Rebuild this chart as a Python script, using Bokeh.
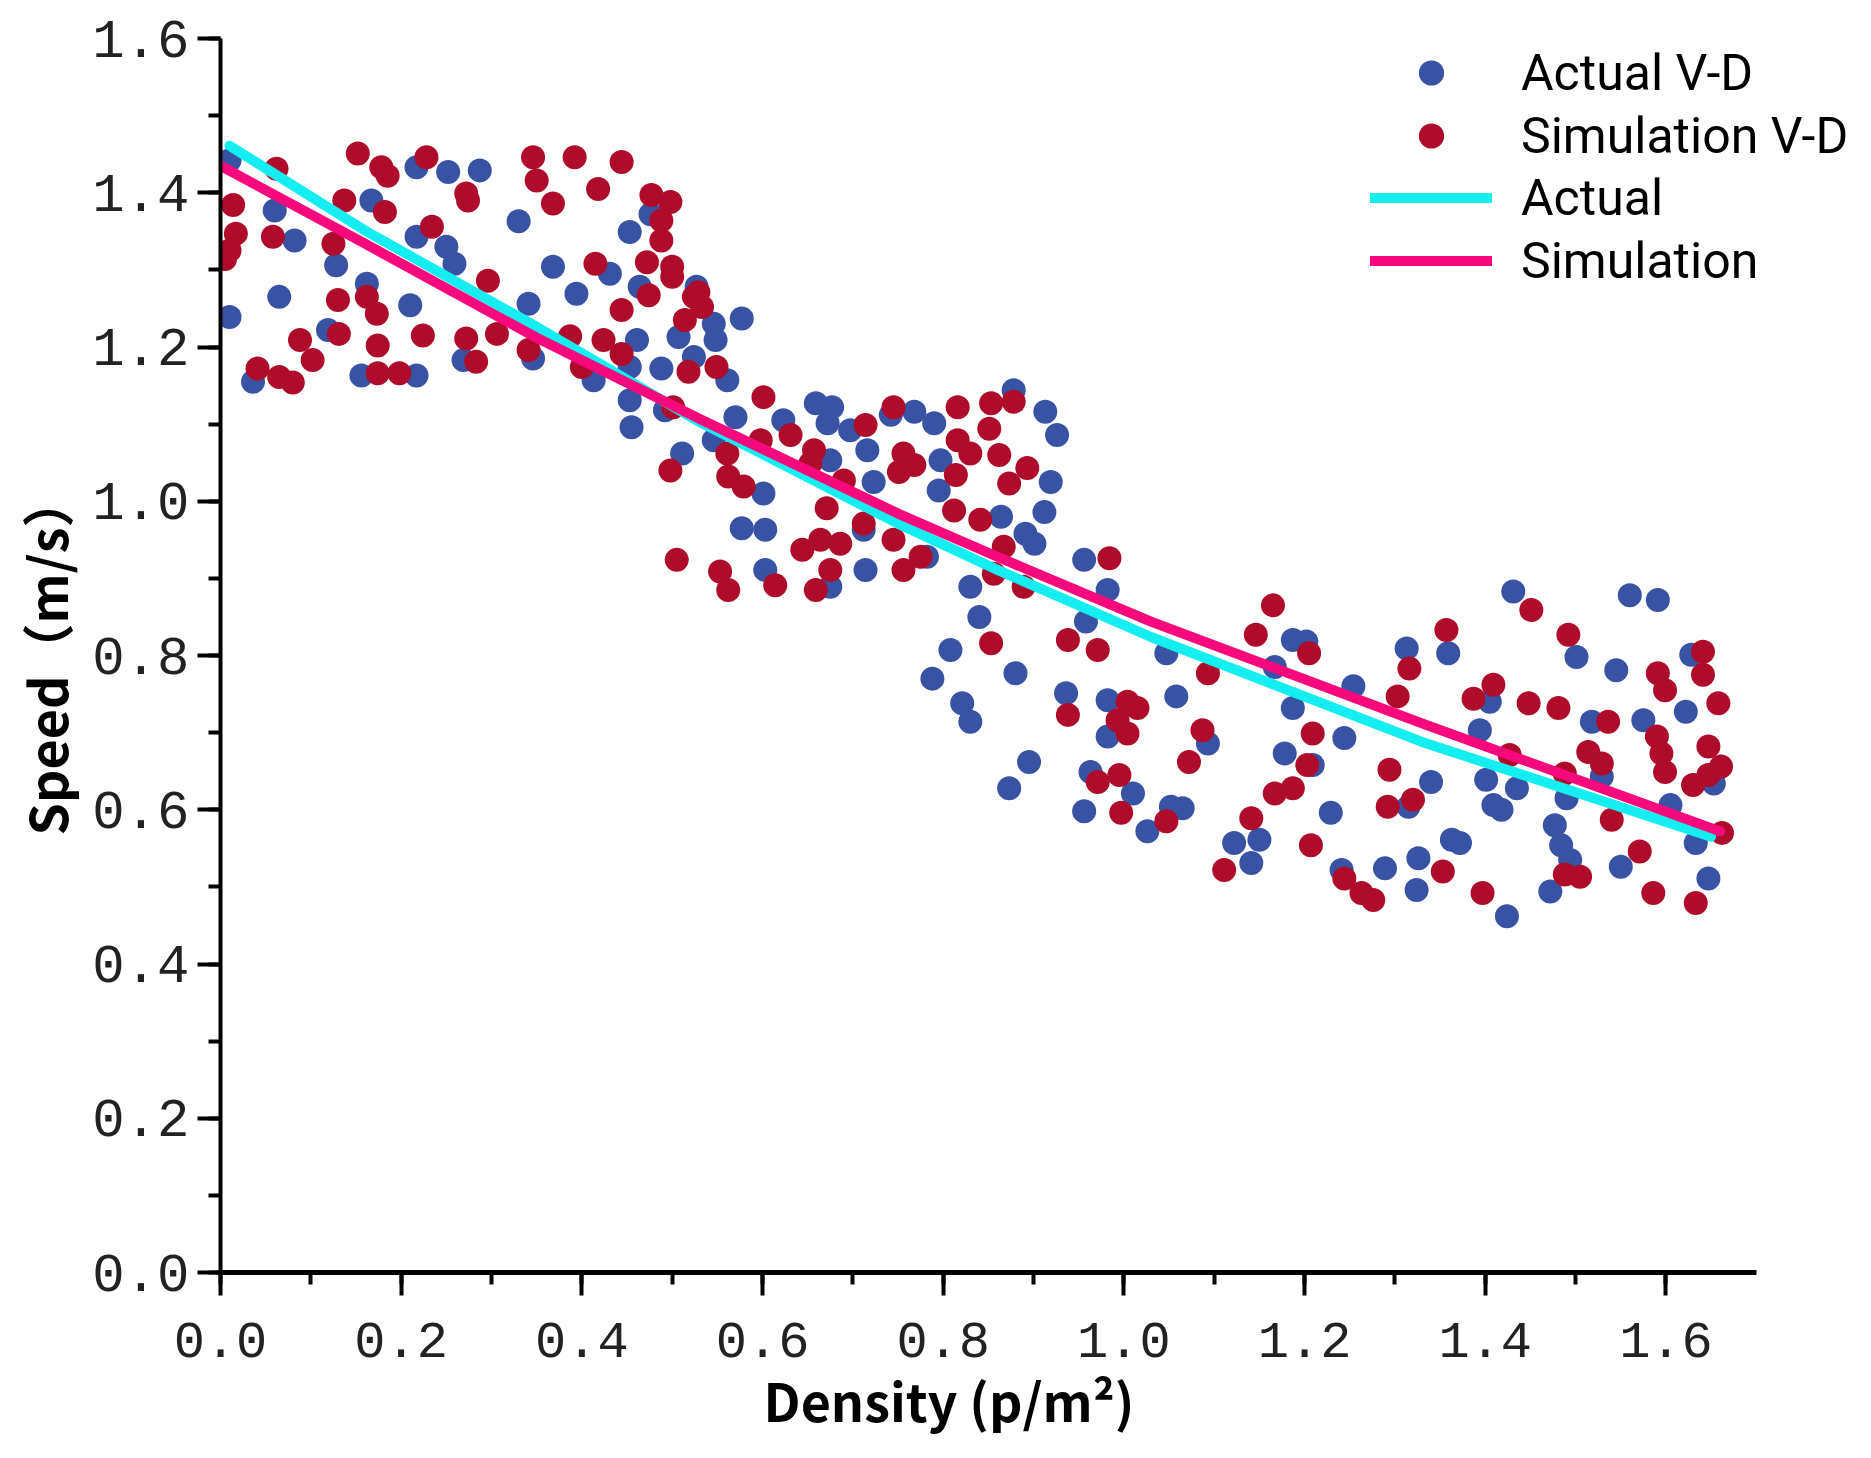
from bokeh.plotting import figure
from bokeh.models import (SingleIntervalTicker, PrintfTickFormatter, Legend,
                          LegendItem, Range1d, Title)
from bokeh.embed import file_html
from bokeh.resources import INLINE

BLUE = "#3953A4"
RED = "#AE0C2A"
CYAN = "#14EEF0"
PINK = "#F7087C"

# measured points, actual V-D (density p/m2, speed m/s)
blue_density = [
    0.010, 0.060, 0.082, 0.065, 0.010, 0.036, 0.128, 0.167, 0.162, 0.119, 0.156, 0.217, 0.210, 0.217, 0.252, 0.287, 0.217, 0.250, 0.259, 0.330,
    0.368, 0.394, 0.341, 0.431, 0.453, 0.476, 0.464, 0.461, 0.453, 0.413, 0.453, 0.455, 0.488, 0.507, 0.527, 0.511, 0.492, 0.269, 0.346,
    0.577, 0.546, 0.548, 0.524, 0.561, 0.570, 0.623, 0.659, 0.677, 0.672, 0.697, 0.742, 0.768, 0.790, 0.878, 0.913, 0.926, 0.919,
    0.912, 0.864, 0.891, 0.901, 0.797, 0.795, 0.716, 0.723, 0.675, 0.546, 0.601, 0.577, 0.603, 0.603, 0.712, 0.714, 0.675, 0.782,
    0.830, 0.840, 0.808, 0.788, 0.821, 0.830, 0.880, 0.956, 0.982, 0.958, 0.936, 0.982, 0.982,
    1.047, 1.058, 0.895, 0.873, 0.963, 0.956, 1.010, 1.026, 1.052, 1.065, 1.093, 1.122, 1.150, 1.141, 1.167, 1.187,
    1.187, 1.202, 1.178, 1.209, 1.244, 1.229, 1.254, 1.313, 1.359, 1.340, 1.315, 1.241, 1.289, 1.326, 1.324, 1.363,
    1.431, 1.560, 1.591, 1.501, 1.545, 1.628, 1.405, 1.518, 1.575, 1.622, 1.394, 1.401, 1.435, 1.409,
    1.418, 1.490, 1.529, 1.477, 1.484, 1.494, 1.472, 1.372, 1.424, 1.550, 1.605, 1.633, 1.647, 1.653,
]
blue_speed = [
    1.442, 1.377, 1.338, 1.265, 1.239, 1.155, 1.306, 1.390, 1.282, 1.222, 1.163, 1.163, 1.254, 1.433, 1.427, 1.429, 1.343, 1.330, 1.308, 1.363,
    1.304, 1.269, 1.256, 1.295, 1.349, 1.372, 1.278, 1.209, 1.174, 1.157, 1.131, 1.096, 1.172, 1.213, 1.278, 1.062, 1.118, 1.183, 1.185,
    1.237, 1.230, 1.209, 1.187, 1.157, 1.109, 1.105, 1.127, 1.122, 1.101, 1.092, 1.112, 1.116, 1.101, 1.144, 1.116, 1.086, 1.025,
    0.986, 0.980, 0.958, 0.945, 1.053, 1.014, 1.066, 1.025, 1.053, 1.079, 1.010, 0.965, 0.963, 0.911, 0.963, 0.911, 0.889, 0.928,
    0.889, 0.850, 0.807, 0.770, 0.738, 0.714, 0.777, 0.924, 0.885, 0.844, 0.751, 0.742, 0.695,
    0.803, 0.747, 0.662, 0.628, 0.649, 0.598, 0.621, 0.572, 0.604, 0.602, 0.686, 0.557, 0.561, 0.531, 0.785, 0.732,
    0.820, 0.818, 0.673, 0.658, 0.693, 0.596, 0.760, 0.809, 0.803, 0.636, 0.604, 0.522, 0.524, 0.537, 0.496, 0.561,
    0.883, 0.878, 0.872, 0.798, 0.781, 0.801, 0.740, 0.714, 0.716, 0.727, 0.703, 0.639, 0.628, 0.606,
    0.600, 0.615, 0.643, 0.580, 0.554, 0.535, 0.494, 0.557, 0.462, 0.526, 0.606, 0.557, 0.511, 0.634,
]

# simulated points, simulation V-D
red_density = [
    0.152, 0.178, 0.185, 0.228, 0.272, 0.274, 0.062, 0.014, 0.017, 0.010, 0.005, 0.058, 0.125, 0.137, 0.182, 0.234, 0.346, 0.350, 0.368, 0.392,
    0.418, 0.444, 0.477, 0.498, 0.488, 0.488, 0.472, 0.500, 0.500, 0.415, 0.296, 0.524, 0.474, 0.444, 0.514, 0.130, 0.162, 0.173, 0.131, 0.088,
    0.102, 0.041, 0.065, 0.080, 0.174, 0.174, 0.198, 0.224, 0.272, 0.283, 0.306, 0.341, 0.387, 0.400, 0.424, 0.444, 0.518, 0.501, 0.498, 0.505,
    0.529, 0.533, 0.549, 0.601, 0.561, 0.562, 0.579, 0.598, 0.631, 0.657, 0.653, 0.714, 0.745, 0.816, 0.853, 0.878, 0.851, 0.756,
    0.768, 0.751, 0.816, 0.830, 0.862, 0.814, 0.893, 0.873, 0.690, 0.671, 0.712, 0.812, 0.841, 0.867, 0.856, 0.889, 0.664, 0.644,
    0.686, 0.675, 0.659, 0.745, 0.775, 0.756, 0.553, 0.562, 0.614, 0.984, 0.853, 0.938, 0.971, 0.938, 1.004, 0.993, 1.004,
    1.015, 1.093, 1.087, 1.072, 0.971, 0.995, 0.997, 1.047, 1.165, 1.146, 1.205, 1.209, 1.203, 1.167,
    1.187, 1.141, 1.207, 1.111, 1.244, 1.263, 1.276, 1.303, 1.316, 1.294, 1.292, 1.320, 1.357, 1.353,
    1.451, 1.492, 1.387, 1.409, 1.448, 1.481, 1.536, 1.514, 1.529, 1.591, 1.599, 1.641, 1.641, 1.658, 1.590, 1.595,
    1.599, 1.647, 1.661, 1.647, 1.630, 1.427, 1.488, 1.540, 1.662, 1.571, 1.488, 1.505, 1.397, 1.586, 1.633,
]
red_speed = [
    1.451, 1.433, 1.422, 1.446, 1.399, 1.390, 1.431, 1.384, 1.347, 1.325, 1.314, 1.343, 1.334, 1.390, 1.375, 1.356, 1.446, 1.416, 1.386, 1.446,
    1.405, 1.440, 1.397, 1.388, 1.364, 1.338, 1.310, 1.304, 1.291, 1.308, 1.286, 1.265, 1.267, 1.248, 1.235, 1.261, 1.265, 1.243, 1.217, 1.209,
    1.183, 1.172, 1.161, 1.154, 1.202, 1.166, 1.166, 1.215, 1.211, 1.181, 1.217, 1.196, 1.214, 1.174, 1.209, 1.191, 1.168, 1.122, 1.040, 0.924,
    1.271, 1.252, 1.174, 1.135, 1.062, 1.032, 1.019, 1.079, 1.086, 1.066, 1.049, 1.099, 1.122, 1.122, 1.127, 1.129, 1.094, 1.062,
    1.047, 1.038, 1.079, 1.062, 1.060, 1.034, 1.043, 1.023, 1.027, 0.991, 0.971, 0.988, 0.976, 0.941, 0.906, 0.889, 0.950, 0.937,
    0.945, 0.911, 0.885, 0.950, 0.928, 0.911, 0.909, 0.885, 0.891, 0.926, 0.816, 0.820, 0.807, 0.723, 0.740, 0.716, 0.699,
    0.732, 0.777, 0.703, 0.662, 0.636, 0.645, 0.596, 0.585, 0.865, 0.827, 0.803, 0.699, 0.658, 0.621,
    0.628, 0.589, 0.554, 0.522, 0.511, 0.492, 0.483, 0.747, 0.783, 0.652, 0.604, 0.613, 0.833, 0.520,
    0.859, 0.827, 0.744, 0.762, 0.738, 0.732, 0.714, 0.675, 0.660, 0.777, 0.755, 0.805, 0.775, 0.738, 0.695, 0.673,
    0.649, 0.682, 0.656, 0.645, 0.632, 0.671, 0.647, 0.587, 0.570, 0.546, 0.516, 0.513, 0.492, 0.492, 0.479,
]

# fitted curves
actual_fit_density = [0.01, 0.16, 0.35, 0.53, 0.75, 0.86, 1.03, 1.33, 1.65]
actual_fit_speed = [1.461, 1.351, 1.226, 1.103, 0.971, 0.911, 0.824, 0.688, 0.565]
sim_fit_density = [0.0, 0.16, 0.35, 0.53, 0.75, 0.86, 1.03, 1.33, 1.66]
sim_fit_speed = [1.435, 1.334, 1.212, 1.107, 0.984, 0.928, 0.844, 0.712, 0.572]

legend_labels = ["Actual V-D", "Simulation V-D", "Actual", "Simulation"]

LABEL_FONT = "Noto Sans CJK SC"
LEGEND_FONT = "Roboto"
TICK_FONT = "Liberation Mono"

# the frame runs past 1.7 so the legend is not clipped; the x axis stops at 1.7
X_AXIS_END = 1.7
X_VIEW_END = 1.822

p = figure(
    width=1866,
    height=1456,
    x_range=Range1d(0, X_VIEW_END),
    y_range=Range1d(0, 1.6),
    output_backend="svg",
    toolbar_location=None,
    tools="",
    min_border_left=220,
    min_border_right=0,
    min_border_top=38,
    min_border_bottom=184,
)
p.outline_line_color = None
p.xgrid.visible = False
p.ygrid.visible = False

b = p.scatter(blue_density, blue_speed, size=24, fill_color=BLUE, line_color=None)
r = p.scatter(red_density, red_speed, size=24, fill_color=RED, line_color=None)
la = p.line(actual_fit_density, actual_fit_speed, line_width=10, line_color=CYAN,
            line_cap="round", line_join="round")
ls = p.line(sim_fit_density, sim_fit_speed, line_width=10, line_color=PINK,
            line_cap="round", line_join="round")

for ax in (p.xaxis[0], p.yaxis[0]):
    ax.ticker = SingleIntervalTicker(interval=0.2, num_minor_ticks=2)
    ax.formatter = PrintfTickFormatter(format="%.1f")
    ax.axis_line_color = "black"
    ax.axis_line_width = 4
    ax.major_tick_in = 0
    ax.major_tick_out = 23
    ax.minor_tick_in = 0
    ax.minor_tick_out = 12
    ax.major_tick_line_width = 4
    ax.minor_tick_line_width = 4
    ax.major_tick_line_color = "black"
    ax.minor_tick_line_color = "black"
    ax.major_label_text_font = TICK_FONT
    ax.major_label_text_color = "#222222"

p.xaxis.bounds = (0, X_AXIS_END)
p.xaxis.axis_line_width = 5
p.xaxis.major_label_text_font_size = "52px"
p.xaxis.major_label_standoff = 27
p.yaxis.major_label_text_font_size = "54px"
p.yaxis.major_label_standoff = 8
p.yaxis.axis_label = "Speed（m/s）"
p.yaxis.axis_label_text_font = LABEL_FONT
p.yaxis.axis_label_text_font_style = "bold"
p.yaxis.axis_label_text_font_size = "52px"
p.yaxis.axis_label_text_color = "black"
p.yaxis.axis_label_standoff = 6

# x label sits left of the frame centre, as in the original
xlabel = Title(
    text="Density (p/m²)",
    align="left",
    offset=543,
    standoff=0,
    text_font=LABEL_FONT,
    text_font_style="bold",
    text_font_size="52px",
    text_color="black",
)
p.add_layout(xlabel, "below")

# one legend per row, so each row can be placed where the original has it
row_bottoms = [1168, 1105, 1043, 980]
for label, renderer, vy in zip(legend_labels, [b, r, la, ls], row_bottoms):
    lg = Legend(
        items=[LegendItem(label=label, renderers=[renderer])],
        location=(1150, vy),
        glyph_width=122,
        glyph_height=63,
        label_height=63,
        label_standoff=29,
        spacing=0,
        padding=0,
        margin=0,
        border_line_color=None,
        background_fill_alpha=0,
        label_text_font=LEGEND_FONT,
        label_text_font_size="50px",
        label_text_color="black",
    )
    p.add_layout(lg)

open("out.html", "w").write(file_html(p, INLINE))
